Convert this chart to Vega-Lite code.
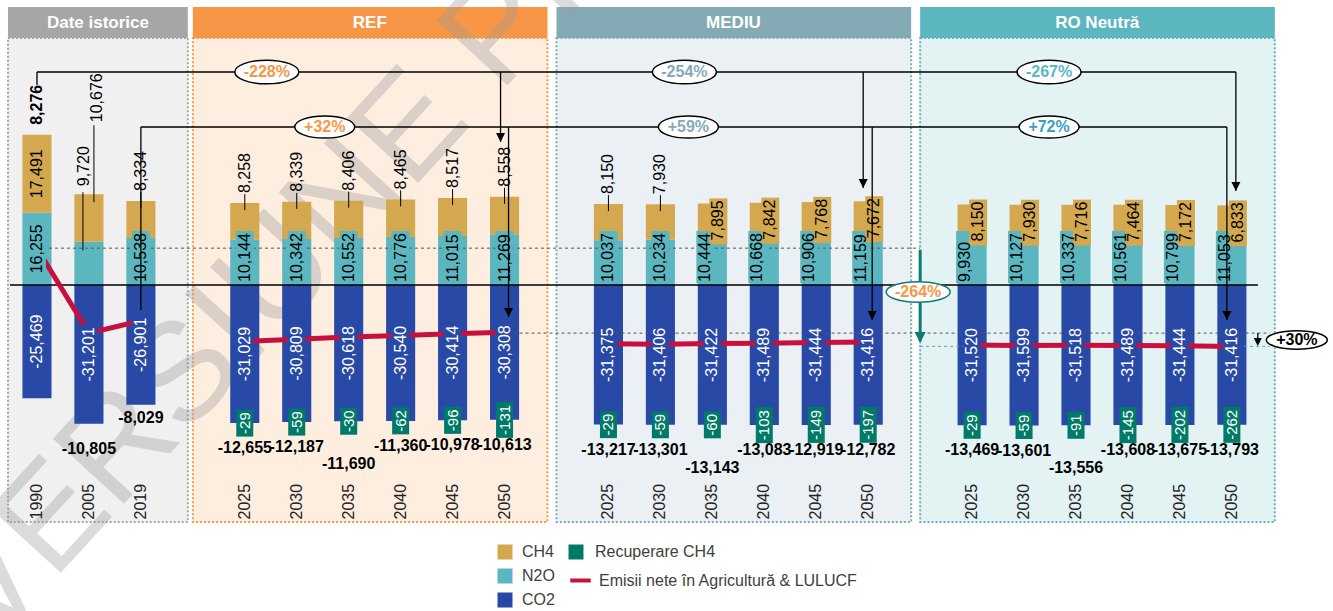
{
"$schema":"https://vega.github.io/schema/vega-lite/v6.json",
"width":1333,"height":525,
"autosize":{"type":"none"},
"padding":{"left":0,"top":0,"right":0,"bottom":86},
"background":"#FFFFFF",
"config":{"view":{"stroke":null},"font":"Liberation Sans","axisY":{"disable":true},"locale":{"number":{"decimal":".","thousands":",","grouping":[3],"currency":["",""],"minus":"-"}}},
"datasets":{
"d":[
{"scen":"Istoric","year":1990,"key":"Istoric 1990","CH4":17491,"N2O":16255,"CO2":-25469,"Rec":null,"Net":8276},
{"scen":"Istoric","year":2005,"key":"Istoric 2005","CH4":10676,"N2O":9720,"CO2":-31201,"Rec":null,"Net":-10805},
{"scen":"Istoric","year":2019,"key":"Istoric 2019","CH4":8334,"N2O":10538,"CO2":-26901,"Rec":null,"Net":-8029},
{"scen":"REF","year":2025,"key":"REF 2025","CH4":8258,"N2O":10144,"CO2":-31029,"Rec":-29,"Net":-12655},
{"scen":"REF","year":2030,"key":"REF 2030","CH4":8339,"N2O":10342,"CO2":-30809,"Rec":-59,"Net":-12187},
{"scen":"REF","year":2035,"key":"REF 2035","CH4":8406,"N2O":10552,"CO2":-30618,"Rec":-30,"Net":-11690},
{"scen":"REF","year":2040,"key":"REF 2040","CH4":8465,"N2O":10776,"CO2":-30540,"Rec":-62,"Net":-11360},
{"scen":"REF","year":2045,"key":"REF 2045","CH4":8517,"N2O":11015,"CO2":-30414,"Rec":-96,"Net":-10978},
{"scen":"REF","year":2050,"key":"REF 2050","CH4":8558,"N2O":11269,"CO2":-30308,"Rec":-131,"Net":-10613},
{"scen":"MEDIU","year":2025,"key":"MEDIU 2025","CH4":8150,"N2O":10037,"CO2":-31375,"Rec":-29,"Net":-13217},
{"scen":"MEDIU","year":2030,"key":"MEDIU 2030","CH4":7930,"N2O":10234,"CO2":-31406,"Rec":-59,"Net":-13301},
{"scen":"MEDIU","year":2035,"key":"MEDIU 2035","CH4":7895,"N2O":10444,"CO2":-31422,"Rec":-60,"Net":-13143},
{"scen":"MEDIU","year":2040,"key":"MEDIU 2040","CH4":7842,"N2O":10668,"CO2":-31489,"Rec":-103,"Net":-13083},
{"scen":"MEDIU","year":2045,"key":"MEDIU 2045","CH4":7768,"N2O":10906,"CO2":-31444,"Rec":-149,"Net":-12919},
{"scen":"MEDIU","year":2050,"key":"MEDIU 2050","CH4":7672,"N2O":11159,"CO2":-31416,"Rec":-197,"Net":-12782},
{"scen":"RO","year":2025,"key":"RO 2025","CH4":8150,"N2O":9930,"CO2":-31520,"Rec":-29,"Net":-13469},
{"scen":"RO","year":2030,"key":"RO 2030","CH4":7930,"N2O":10127,"CO2":-31599,"Rec":-59,"Net":-13601},
{"scen":"RO","year":2035,"key":"RO 2035","CH4":7716,"N2O":10337,"CO2":-31518,"Rec":-91,"Net":-13556},
{"scen":"RO","year":2040,"key":"RO 2040","CH4":7464,"N2O":10561,"CO2":-31489,"Rec":-145,"Net":-13608},
{"scen":"RO","year":2045,"key":"RO 2045","CH4":7172,"N2O":10799,"CO2":-31444,"Rec":-202,"Net":-13675},
{"scen":"RO","year":2050,"key":"RO 2050","CH4":6833,"N2O":11053,"CO2":-31416,"Rec":-262,"Net":-13793}
],
"panels":[
{"panel":"REF","from":"g1","to":"g2"},
{"panel":"MEDIU","from":"g2","to":"g3"},
{"panel":"RO Neutră","from":"g3","to":"g4"}
]
},
"data":{"name":"d"},
"transform":[
{"calculate":"datum.N2O + datum.CH4","as":"top"},
{"calculate":"datum.CO2 / 2","as":"co2mid"},
{"calculate":"datum.N2O / 2","as":"n2omid"},
{"calculate":"datum.N2O + datum.CH4 / 2","as":"ch4mid"},
{"calculate":"datum.scen === 'Istoric' && datum.year !== 2019 ? 'hist' : (((datum.scen === 'MEDIU' && datum.year >= 2035) || datum.scen === 'RO') ? 'inside' : 'std')","as":"grp"}
],
"layer":[
{"data":{"values":[{}]},"mark":{"type":"rect","fill":"#F0F0F0","stroke":"#A6A6A6","strokeWidth":2,"strokeDash":[2,2],"xOffset":-29,"x2Offset":-5},
 "encoding":{"x":{"datum":"Istoric 1990","type":"nominal","bandPosition":0.5},"x2":{"datum":"g1","bandPosition":0.5},"y":{"datum":55506,"type":"quantitative"},"y2":{"datum":-53258}}},
{"data":{"values":[{}]},"mark":{"type":"rect","fill":"#A6A6A6","xOffset":-29,"x2Offset":-5},
 "encoding":{"x":{"datum":"Istoric 1990","type":"nominal","bandPosition":0.5},"x2":{"datum":"g1","bandPosition":0.5},"y":{"datum":62472,"type":"quantitative"},"y2":{"datum":55506}}},
{"data":{"name":"panels"},"mark":{"type":"rect","strokeWidth":2,"strokeDash":[2,2],"x2Offset":-9},
 "encoding":{"x":{"field":"from","type":"nominal","bandPosition":0.5},"x2":{"field":"to","bandPosition":0.5},"y":{"datum":55506,"type":"quantitative"},"y2":{"datum":-53258},
  "fill":{"condition":[{"test":"datum.panel === 'REF'","value":"#FDEEE0"},{"test":"datum.panel === 'MEDIU'","value":"#EAF0F3"}],"value":"#E3F2F3"},
  "stroke":{"condition":[{"test":"datum.panel === 'REF'","value":"#F79646"},{"test":"datum.panel === 'MEDIU'","value":"#84ABB5"}],"value":"#5BB6C0"}}},
{"data":{"name":"panels"},"mark":{"type":"rect","x2Offset":-9},
 "encoding":{"x":{"field":"from","type":"nominal","bandPosition":0.5},"x2":{"field":"to","bandPosition":0.5},"y":{"datum":62472,"type":"quantitative"},"y2":{"datum":55506},
  "fill":{"condition":[{"test":"datum.panel === 'REF'","value":"#F79646"},{"test":"datum.panel === 'MEDIU'","value":"#84ABB5"}],"value":"#5BB6C0"}}},
{"data":{"values":[{}]},"mark":{"type":"text","text":"Date istorice","fontSize":17,"fontWeight":"bold","color":"#FFFFFF","align":"center","baseline":"middle","xOffset":61},
 "encoding":{"x":{"datum":"Istoric 1990","type":"nominal"},"y":{"datum":58900,"type":"quantitative"}}},
{"data":{"name":"panels"},"mark":{"type":"text","fontSize":17,"fontWeight":"bold","color":"#FFFFFF","align":"center","baseline":"middle","xOffset":177},
 "encoding":{"x":{"field":"from","type":"nominal","bandPosition":0.5},"y":{"datum":58900,"type":"quantitative"},"text":{"field":"panel"}}},
{"data":{"values":[{}]},"mark":{"type":"text","text":"VERSIUNE PRELIMINARĂ","angle":312.5,"align":"left","baseline":"alphabetic","fontSize":140,"color":"#9A9A9A","opacity":0.35,"xOffset":-47},
 "encoding":{"x":{"datum":"Istoric 1990","type":"nominal"},"y":{"datum":-82022,"type":"quantitative"}}},
{"transform":[{"fold":["N2O","CH4","CO2"],"as":["gas","value"]}],
 "mark":{"type":"bar"},
 "encoding":{
  "x":{"field":"key","type":"nominal","sort":null,
   "scale":{"domain":["Istoric 1990","Istoric 2005","Istoric 2019","g1","REF 2025","REF 2030","REF 2035","REF 2040","REF 2045","REF 2050","g2","MEDIU 2025","MEDIU 2030","MEDIU 2035","MEDIU 2040","MEDIU 2045","MEDIU 2050","g3","RO 2025","RO 2030","RO 2035","RO 2040","RO 2045","RO 2050","g4"],"range":[11,1309.8],"paddingInner":0.44,"paddingOuter":0.22},
   "axis":{"title":null,"orient":"bottom","domain":false,"ticks":false,"tickSize":0,"grid":false,"labelAngle":270,"labelAlign":"left","labelBaseline":"middle","labelPadding":-6,"labelFontSize":16,"labelColor":"#222222","labelOverlap":false,"labelExpr":"length(datum.value) < 4 ? '' : slice(datum.value, -4)"}},
  "y":{"field":"value","type":"quantitative","stack":"zero","title":null,"scale":{"domain":[-53933,64045],"nice":false,"zero":false},"axis":null},
  "color":{"field":"gas","type":"nominal",
   "scale":{"domain":["CH4","N2O","CO2"],"range":["#D4A84F","#5BB6C0","#2849A5"]},
   "legend":{"title":null,"orient":"none","legendX":497,"legendY":544,"direction":"vertical","rowPadding":8,"symbolType":"square","symbolSize":225,"symbolStrokeWidth":0,"labelFontSize":16,"labelColor":"#404040","labelOffset":9}},
  "order":{"field":"gas","sort":"descending"}}},
{"data":{"values":[{}]},"mark":{"type":"rule","color":"#000000","strokeWidth":1.5,"xOffset":-27,"x2Offset":26},
 "encoding":{"x":{"datum":"Istoric 1990","type":"nominal"},"x2":{"datum":"RO 2050"},"y":{"datum":0,"type":"quantitative"}}},
{"data":{"values":[{}]},"mark":{"type":"rule","color":"#555555","strokeWidth":1,"strokeDash":[3,3]},
 "encoding":{"x":{"datum":"Istoric 1990","type":"nominal"},"x2":{"datum":"g3"},"y":{"datum":8276,"type":"quantitative"}}},
{"data":{"values":[{}]},"mark":{"type":"rule","color":"#555555","strokeWidth":1,"strokeDash":[3,3],"xOffset":3,"x2Offset":-14},
 "encoding":{"x":{"datum":"REF 2050","type":"nominal"},"x2":{"datum":"g4"},"y":{"datum":-10805,"type":"quantitative"}}},
{"data":{"values":[{}]},"mark":{"type":"rule","color":"#5FA8B0","strokeWidth":1,"strokeDash":[3,3],"x2Offset":-14},
 "encoding":{"x":{"datum":"g3","type":"nominal"},"x2":{"datum":"g4"},"y":{"datum":-13793,"type":"quantitative"}}},
{"mark":{"type":"line","strokeWidth":5},
 "encoding":{"x":{"field":"key","type":"nominal"},"y":{"field":"Net","type":"quantitative"},"detail":{"field":"scen","type":"nominal"},
  "stroke":{"datum":"Emisii nete în Agricultură & LULUCF","type":"nominal","scale":{"domain":["Emisii nete în Agricultură & LULUCF"],"range":["#C8103F"]},
   "legend":{"title":null,"orient":"none","legendX":568,"legendY":568,"symbolType":"stroke","symbolSize":420,"symbolStrokeWidth":4,"labelFontSize":16,"labelColor":"#404040","labelOffset":6,"labelLimit":400}}}},
{"mark":{"type":"tick","size":18,"thickness":60,"color":"#2849A5","opacity":1},
 "encoding":{"x":{"field":"key","type":"nominal"},"y":{"field":"co2mid","type":"quantitative"}}},
{"transform":[{"filter":"datum.grp === 'std'"}],"mark":{"type":"tick","size":18,"thickness":52,"yOffset":-28,"color":"#5BB6C0","opacity":1},
 "encoding":{"x":{"field":"key","type":"nominal"},"y":{"datum":0,"type":"quantitative"}}},
{"transform":[{"filter":"datum.grp === 'inside'"}],"mark":{"type":"tick","size":18,"thickness":52,"yOffset":-28,"xOffset":-7,"color":"#5BB6C0","opacity":1},
 "encoding":{"x":{"field":"key","type":"nominal"},"y":{"datum":0,"type":"quantitative"}}},
{"transform":[{"filter":"datum.grp === 'inside'"}],"mark":{"type":"tick","size":18,"thickness":46,"yOffset":18,"xOffset":6,"color":"#D4A84F","opacity":1},
 "encoding":{"x":{"field":"key","type":"nominal"},"y":{"field":"top","type":"quantitative"}}},
{"transform":[{"filter":"datum.year === 1990"}],"mark":{"type":"tick","size":18,"thickness":56,"color":"#5BB6C0","opacity":1},
 "encoding":{"x":{"field":"key","type":"nominal"},"y":{"field":"n2omid","type":"quantitative"}}},
{"transform":[{"filter":"isValid(datum.Rec) && abs(datum.Rec) < 100"}],"mark":{"type":"tick","size":17,"thickness":27,"opacity":1},
 "encoding":{"x":{"field":"key","type":"nominal"},"y":{"field":"CO2","type":"quantitative"},
  "fill":{"datum":"Recuperare CH4","type":"nominal","scale":{"domain":["Recuperare CH4"],"range":["#007A68"]},
   "legend":{"title":null,"orient":"none","legendX":568,"legendY":544,"symbolType":"square","symbolSize":225,"symbolStrokeWidth":0,"labelFontSize":16,"labelColor":"#404040","labelOffset":11,"labelLimit":400}}}},
{"transform":[{"filter":"isValid(datum.Rec) && abs(datum.Rec) >= 100"}],"mark":{"type":"tick","size":17,"thickness":36,"opacity":1},
 "encoding":{"x":{"field":"key","type":"nominal"},"y":{"field":"CO2","type":"quantitative"},
  "fill":{"datum":"Recuperare CH4","type":"nominal"}}},
{"mark":{"type":"text","angle":270,"align":"center","baseline":"middle","fontSize":16,"color":"#FFFFFF"},
 "encoding":{"x":{"field":"key","type":"nominal"},"y":{"field":"co2mid","type":"quantitative"},"text":{"field":"CO2","type":"quantitative","format":",.0f"}}},
{"transform":[{"filter":"datum.grp === 'std'"}],"mark":{"type":"text","angle":270,"align":"left","baseline":"middle","fontSize":16,"color":"#000000","yOffset":-3},
 "encoding":{"x":{"field":"key","type":"nominal"},"y":{"datum":0,"type":"quantitative"},"text":{"field":"N2O","type":"quantitative","format":",.0f"}}},
{"transform":[{"filter":"datum.grp === 'inside'"}],"mark":{"type":"text","angle":270,"align":"left","baseline":"middle","fontSize":16,"color":"#000000","yOffset":-3,"xOffset":-7},
 "encoding":{"x":{"field":"key","type":"nominal"},"y":{"datum":0,"type":"quantitative"},"text":{"field":"N2O","type":"quantitative","format":",.0f"}}},
{"transform":[{"filter":"datum.grp === 'std'"}],"mark":{"type":"text","angle":270,"align":"left","baseline":"middle","fontSize":16,"color":"#000000","yOffset":-10},
 "encoding":{"x":{"field":"key","type":"nominal"},"y":{"field":"top","type":"quantitative"},"text":{"field":"CH4","type":"quantitative","format":",.0f"}}},
{"transform":[{"filter":"datum.grp === 'inside'"}],"mark":{"type":"text","angle":270,"align":"right","baseline":"middle","fontSize":16,"color":"#000000","yOffset":-3,"xOffset":6},
 "encoding":{"x":{"field":"key","type":"nominal"},"y":{"field":"top","type":"quantitative"},"text":{"field":"CH4","type":"quantitative","format":",.0f"}}},
{"transform":[{"filter":"datum.grp === 'std'"}],"mark":{"type":"rule","color":"#000000","strokeWidth":1,"yOffset":-9,"y2Offset":7},
 "encoding":{"x":{"field":"key","type":"nominal"},"y":{"field":"top","type":"quantitative"},"y2":{"field":"top"}}},
{"transform":[{"filter":"datum.year === 1990"}],"mark":{"type":"text","angle":270,"align":"center","baseline":"middle","fontSize":16,"color":"#000000"},
 "encoding":{"x":{"field":"key","type":"nominal"},"y":{"field":"ch4mid","type":"quantitative"},"text":{"field":"CH4","type":"quantitative","format":",.0f"}}},
{"transform":[{"filter":"datum.year === 1990"}],"mark":{"type":"text","angle":270,"align":"center","baseline":"middle","fontSize":16,"color":"#000000"},
 "encoding":{"x":{"field":"key","type":"nominal"},"y":{"field":"n2omid","type":"quantitative"},"text":{"field":"N2O","type":"quantitative","format":",.0f"}}},
{"transform":[{"filter":"datum.year === 1990"}],"mark":{"type":"text","angle":270,"align":"left","baseline":"middle","fontSize":16,"fontWeight":"bold","color":"#000000","yOffset":-10},
 "encoding":{"x":{"field":"key","type":"nominal"},"y":{"field":"top","type":"quantitative"},"text":{"field":"Net","type":"quantitative","format":",.0f"}}},
{"transform":[{"filter":"datum.year === 2005"}],"mark":{"type":"text","angle":270,"align":"left","baseline":"middle","fontSize":16,"color":"#000000","yOffset":-8,"xOffset":-5},
 "encoding":{"x":{"field":"key","type":"nominal"},"y":{"field":"top","type":"quantitative"},"text":{"field":"N2O","type":"quantitative","format":",.0f"}}},
{"transform":[{"filter":"datum.year === 2005"}],"mark":{"type":"text","angle":270,"align":"left","baseline":"middle","fontSize":16,"color":"#000000","yOffset":-72,"xOffset":8},
 "encoding":{"x":{"field":"key","type":"nominal"},"y":{"field":"top","type":"quantitative"},"text":{"field":"CH4","type":"quantitative","format":",.0f"}}},
{"transform":[{"filter":"datum.year === 2005"}],"mark":{"type":"rule","color":"#000000","strokeWidth":1,"xOffset":-6,"yOffset":-2,"y2Offset":56},
 "encoding":{"x":{"field":"key","type":"nominal"},"y":{"field":"top","type":"quantitative"},"y2":{"field":"top"}}},
{"transform":[{"filter":"datum.year === 2005"}],"mark":{"type":"rule","color":"#000000","strokeWidth":1,"xOffset":5,"yOffset":-69,"y2Offset":8},
 "encoding":{"x":{"field":"key","type":"nominal"},"y":{"field":"top","type":"quantitative"},"y2":{"field":"top"}}},
{"transform":[{"filter":"datum.year !== 1990 && datum.year !== 2019 && datum.year !== 2035"}],"mark":{"type":"text","align":"center","baseline":"middle","fontSize":16,"fontWeight":"bold","color":"#000000","yOffset":25},
 "encoding":{"x":{"field":"key","type":"nominal"},"y":{"field":"CO2","type":"quantitative"},"text":{"field":"Net","type":"quantitative","format":",.0f"}}},
{"transform":[{"filter":"datum.year === 2035"}],"mark":{"type":"text","align":"center","baseline":"middle","fontSize":16,"fontWeight":"bold","color":"#000000","yOffset":43},
 "encoding":{"x":{"field":"key","type":"nominal"},"y":{"field":"CO2","type":"quantitative"},"text":{"field":"Net","type":"quantitative","format":",.0f"}}},
{"transform":[{"filter":"datum.year === 2019"}],"mark":{"type":"text","align":"center","baseline":"middle","fontSize":16,"fontWeight":"bold","color":"#000000","yOffset":13},
 "encoding":{"x":{"field":"key","type":"nominal"},"y":{"field":"CO2","type":"quantitative"},"text":{"field":"Net","type":"quantitative","format":",.0f"}}},
{"transform":[{"filter":"isValid(datum.Rec)"}],"mark":{"type":"text","angle":270,"align":"center","baseline":"middle","fontSize":15,"color":"#FFFFFF"},
 "encoding":{"x":{"field":"key","type":"nominal"},"y":{"field":"CO2","type":"quantitative"},"text":{"field":"Rec","type":"quantitative","format":",.0f"}}},
{"data":{"values":[{}]},"mark":{"type":"rule","color":"#000000","strokeWidth":1.3,"x2Offset":4},
 "encoding":{"x":{"datum":"Istoric 1990","type":"nominal"},"x2":{"datum":"RO 2050"},"y":{"datum":47865,"type":"quantitative"}}},
{"data":{"values":[{}]},"mark":{"type":"rule","color":"#000000","strokeWidth":1.3},
 "encoding":{"x":{"datum":"Istoric 1990","type":"nominal"},"y":{"datum":47865,"type":"quantitative"},"y2":{"datum":44944}}},
{"data":{"values":[{}]},"mark":{"type":"rule","color":"#000000","strokeWidth":1.3,"x2Offset":-5},
 "encoding":{"x":{"datum":"Istoric 2019","type":"nominal"},"x2":{"datum":"RO 2050"},"y":{"datum":35506,"type":"quantitative"}}},
{"data":{"values":[{}]},"mark":{"type":"rule","color":"#000000","strokeWidth":1.3},
 "encoding":{"x":{"datum":"Istoric 2019","type":"nominal"},"y":{"datum":35506,"type":"quantitative"},"y2":{"datum":-5618}}},
{"data":{"values":[{}]},"encoding":{"x":{"datum":"REF 2050","type":"nominal"}},"layer":[
 {"mark":{"type":"rule","color":"#000000","strokeWidth":1.3,"xOffset":-4},"encoding":{"y":{"datum":47865,"type":"quantitative"},"y2":{"datum":32135}}},
 {"mark":{"type":"point","shape":"M-1,-1L1,-1L0,1Z","size":81,"filled":true,"color":"#000000","opacity":1,"xOffset":-4,"yOffset":-4.5},"encoding":{"y":{"datum":32135,"type":"quantitative"}}},
 {"mark":{"type":"rule","color":"#000000","strokeWidth":1.3,"xOffset":4},"encoding":{"y":{"datum":35506,"type":"quantitative"},"y2":{"datum":-7191}}},
 {"mark":{"type":"point","shape":"M-1,-1L1,-1L0,1Z","size":81,"filled":true,"color":"#000000","opacity":1,"xOffset":4,"yOffset":-4.5},"encoding":{"y":{"datum":-7191,"type":"quantitative"}}}
]},
{"data":{"values":[{}]},"encoding":{"x":{"datum":"MEDIU 2050","type":"nominal"}},"layer":[
 {"mark":{"type":"rule","color":"#000000","strokeWidth":1.3,"xOffset":-5},"encoding":{"y":{"datum":47865,"type":"quantitative"},"y2":{"datum":21798}}},
 {"mark":{"type":"point","shape":"M-1,-1L1,-1L0,1Z","size":81,"filled":true,"color":"#000000","opacity":1,"xOffset":-5,"yOffset":-4.5},"encoding":{"y":{"datum":21798,"type":"quantitative"}}},
 {"mark":{"type":"rule","color":"#000000","strokeWidth":1.3,"xOffset":4},"encoding":{"y":{"datum":35506,"type":"quantitative"},"y2":{"datum":-7865}}},
 {"mark":{"type":"point","shape":"M-1,-1L1,-1L0,1Z","size":81,"filled":true,"color":"#000000","opacity":1,"xOffset":4,"yOffset":-4.5},"encoding":{"y":{"datum":-7865,"type":"quantitative"}}}
]},
{"data":{"values":[{}]},"encoding":{"x":{"datum":"RO 2050","type":"nominal"}},"layer":[
 {"mark":{"type":"rule","color":"#000000","strokeWidth":1.3,"xOffset":4},"encoding":{"y":{"datum":47865,"type":"quantitative"},"y2":{"datum":21124}}},
 {"mark":{"type":"point","shape":"M-1,-1L1,-1L0,1Z","size":81,"filled":true,"color":"#000000","opacity":1,"xOffset":4,"yOffset":-4.5},"encoding":{"y":{"datum":21124,"type":"quantitative"}}},
 {"mark":{"type":"rule","color":"#000000","strokeWidth":1.3,"xOffset":-5},"encoding":{"y":{"datum":35506,"type":"quantitative"},"y2":{"datum":-7865}}},
 {"mark":{"type":"point","shape":"M-1,-1L1,-1L0,1Z","size":81,"filled":true,"color":"#000000","opacity":1,"xOffset":-5,"yOffset":-4.5},"encoding":{"y":{"datum":-7865,"type":"quantitative"}}}
]},
{"data":{"values":[{}]},"encoding":{"x":{"datum":"g3","type":"nominal"}},"layer":[
 {"mark":{"type":"rule","color":"#0E7C70","strokeWidth":3},"encoding":{"y":{"datum":7865,"type":"quantitative"},"y2":{"datum":-12600}}},
 {"mark":{"type":"point","shape":"M-1,-1L1,-1L0,1Z","size":121,"filled":true,"color":"#0E7C70","opacity":1,"yOffset":-5.5},"encoding":{"y":{"datum":-13034,"type":"quantitative"}}},
 {"mark":{"type":"point","shape":"M-1,0A1,0.32,0,1,1,1,0A1,0.32,0,1,1,-1,0Z","size":4096,"filled":true,"fill":"#FFFFFF","stroke":"#0E7C70","strokeWidth":1.5,"opacity":1,"xOffset":-2},"encoding":{"y":{"datum":-1573,"type":"quantitative"}}},
 {"mark":{"type":"text","text":"-264%","fontSize":16,"fontWeight":"bold","color":"#F79646","align":"center","baseline":"middle","xOffset":-2},"encoding":{"y":{"datum":-1573,"type":"quantitative"}}}
]},
{"data":{"values":[{}]},"encoding":{"x":{"datum":"g4","type":"nominal"}},"layer":[
 {"mark":{"type":"rule","color":"#000000","strokeWidth":1.3,"xOffset":-26},"encoding":{"y":{"datum":-10805,"type":"quantitative"},"y2":{"datum":-13000}}},
 {"mark":{"type":"point","shape":"M-1,-1L1,-1L0,1Z","size":64,"filled":true,"color":"#000000","opacity":1,"xOffset":-26,"yOffset":-4},"encoding":{"y":{"datum":-13708,"type":"quantitative"}}},
 {"mark":{"type":"point","shape":"M-1,0A1,0.3,0,1,1,1,0A1,0.3,0,1,1,-1,0Z","size":3721,"filled":true,"fill":"#FFFFFF","stroke":"#000000","strokeWidth":1.5,"opacity":1,"xOffset":13},"encoding":{"y":{"datum":-12360,"type":"quantitative"}}},
 {"mark":{"type":"text","text":"+30%","fontSize":16,"fontWeight":"bold","color":"#000000","align":"center","baseline":"middle","xOffset":13},"encoding":{"y":{"datum":-12360,"type":"quantitative"}}}
]},
{"data":{"values":[{}]},"encoding":{"x":{"datum":"REF 2025","type":"nominal"},"y":{"datum":47865,"type":"quantitative"}},"layer":[
 {"mark":{"type":"point","shape":"M-1,0A1,0.37,0,1,1,1,0A1,0.37,0,1,1,-1,0Z","size":4096,"filled":true,"fill":"#FFFFFF","stroke":"#000000","strokeWidth":1.5,"opacity":1,"xOffset":22}},
 {"mark":{"type":"text","text":"-228%","fontSize":16,"fontWeight":"bold","color":"#F79646","align":"center","baseline":"middle","xOffset":22}}
]},
{"data":{"values":[{}]},"encoding":{"x":{"datum":"MEDIU 2030","type":"nominal"},"y":{"datum":47865,"type":"quantitative"}},"layer":[
 {"mark":{"type":"point","shape":"M-1,0A1,0.37,0,1,1,1,0A1,0.37,0,1,1,-1,0Z","size":4096,"filled":true,"fill":"#FFFFFF","stroke":"#000000","strokeWidth":1.5,"opacity":1,"xOffset":24}},
 {"mark":{"type":"text","text":"-254%","fontSize":16,"fontWeight":"bold","color":"#84ABB5","align":"center","baseline":"middle","xOffset":24}}
]},
{"data":{"values":[{}]},"encoding":{"x":{"datum":"RO 2030","type":"nominal"},"y":{"datum":47865,"type":"quantitative"}},"layer":[
 {"mark":{"type":"point","shape":"M-1,0A1,0.37,0,1,1,1,0A1,0.37,0,1,1,-1,0Z","size":4096,"filled":true,"fill":"#FFFFFF","stroke":"#000000","strokeWidth":1.5,"opacity":1,"xOffset":25}},
 {"mark":{"type":"text","text":"-267%","fontSize":16,"fontWeight":"bold","color":"#5BB6C0","align":"center","baseline":"middle","xOffset":25}}
]},
{"data":{"values":[{}]},"encoding":{"x":{"datum":"REF 2030","type":"nominal"},"y":{"datum":35506,"type":"quantitative"}},"layer":[
 {"mark":{"type":"point","shape":"M-1,0A1,0.37,0,1,1,1,0A1,0.37,0,1,1,-1,0Z","size":3600,"filled":true,"fill":"#FFFFFF","stroke":"#000000","strokeWidth":1.5,"opacity":1,"xOffset":28}},
 {"mark":{"type":"text","text":"+32%","fontSize":16,"fontWeight":"bold","color":"#F79646","align":"center","baseline":"middle","xOffset":28}}
]},
{"data":{"values":[{}]},"encoding":{"x":{"datum":"MEDIU 2030","type":"nominal"},"y":{"datum":35506,"type":"quantitative"}},"layer":[
 {"mark":{"type":"point","shape":"M-1,0A1,0.37,0,1,1,1,0A1,0.37,0,1,1,-1,0Z","size":3600,"filled":true,"fill":"#FFFFFF","stroke":"#000000","strokeWidth":1.5,"opacity":1,"xOffset":28}},
 {"mark":{"type":"text","text":"+59%","fontSize":16,"fontWeight":"bold","color":"#84ABB5","align":"center","baseline":"middle","xOffset":28}}
]},
{"data":{"values":[{}]},"encoding":{"x":{"datum":"RO 2030","type":"nominal"},"y":{"datum":35506,"type":"quantitative"}},"layer":[
 {"mark":{"type":"point","shape":"M-1,0A1,0.37,0,1,1,1,0A1,0.37,0,1,1,-1,0Z","size":3600,"filled":true,"fill":"#FFFFFF","stroke":"#000000","strokeWidth":1.5,"opacity":1,"xOffset":25}},
 {"mark":{"type":"text","text":"+72%","fontSize":16,"fontWeight":"bold","color":"#3C9DC2","align":"center","baseline":"middle","xOffset":25}}
]}
]
}
